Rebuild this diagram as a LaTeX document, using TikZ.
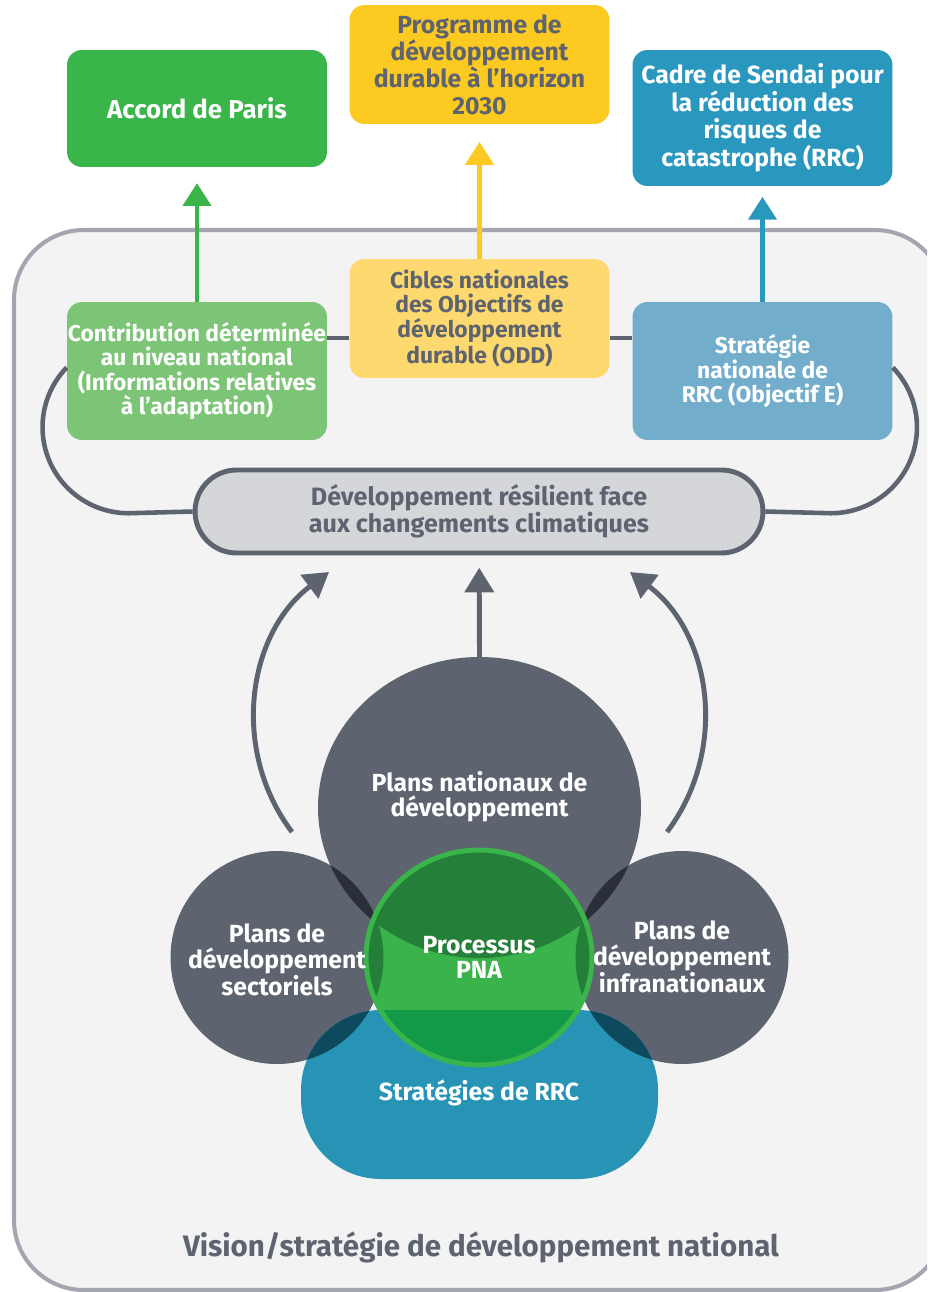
\documentclass[tikz,border=0pt]{standalone}
\usepackage{fontspec}
\setmainfont{Fira Sans}
\usetikzlibrary{arrows.meta}

\definecolor{grn}{HTML}{3AB54A}
\definecolor{ylw}{HTML}{FDCA21}
\definecolor{blu}{HTML}{2A97BE}
\definecolor{lgrn}{HTML}{7DC576}
\definecolor{lylw}{HTML}{FED96F}
\definecolor{lblu}{HTML}{72AECB}
\definecolor{txtgray}{HTML}{5E6370}
\definecolor{capfill}{HTML}{D5D6DA}
\definecolor{bgfill}{HTML}{F3F3F3}
\definecolor{framegray}{HTML}{A3A6AE}
\definecolor{lensgray}{HTML}{2B2F3A}
\definecolor{rrcblue}{HTML}{2794B6}
\definecolor{lensteal}{HTML}{0E4A5E}
\definecolor{pnagrn}{HTML}{3AB34A}
\definecolor{pnadark}{HTML}{248039}
\definecolor{pnablue}{HTML}{139A48}

\begin{document}
\begin{tikzpicture}[x=0.02cm,y=0.02cm,
    box/.style={rounded corners=0.3cm, minimum width=5.2cm, align=center, inner sep=0pt,
        text=white, font=\bfseries\fontsize{14.1}{14.9}\selectfont},
    subbox/.style={box, font=\bfseries\fontsize{13}{13.9}\selectfont},
    capsule/.style={draw=txtgray, line width=2.8pt, fill=capfill, rounded corners=0.83cm,
        minimum width=11.36cm, minimum height=1.66cm, align=center, text=txtgray,
        font=\bfseries\fontsize{14.3}{15.3}\selectfont},
    ctext/.style={align=center, text=white, font=\bfseries\fontsize{14.1}{14.3}\selectfont},
    loopline/.style={draw=txtgray, line width=2.6pt},
    uparrow/.style={line width=2.3pt, -{Triangle[width=16pt,length=13pt]}},
    grayarrow/.style={draw=txtgray, line width=2.8pt, -{Triangle[width=16.4pt,length=14pt]}}]

    % 画布与外框
    \useasboundingbox (0,0) rectangle (927,-1292);
    \clip (0,0) rectangle (927,-1292);
    \fill[white] (0,0) rectangle (927,-1292);
    \draw[fill=bgfill, draw=framegray, line width=2.3pt, rounded corners=1.4cm]
        (14,-230) rectangle (945,-1290);

    % 顶部方框
    \node[box, fill=grn, minimum height=2.34cm, font=\bfseries\fontsize{14.7}{15.5}\selectfont]
        (paris) at (197,-108.5) {Accord de Paris};
    \node[box, fill=ylw, text=txtgray, minimum height=2.38cm,
        font=\bfseries\fontsize{14.1}{15.3}\selectfont]
        (agenda) at (479.5,-64.5) {Programme de\\développement\\durable à l'horizon\\2030};
    \node[box, fill=blu, minimum height=2.72cm]
        (sendai) at (762.5,-118) {Cadre de Sendai pour\\la réduction des\\risques de\\catastrophe (RRC)};

    % 第二行方框
    \node[subbox, fill=lgrn, minimum height=2.76cm]
        (cdn) at (197,-371) {Contribution déterminée\\au niveau national\\(Informations relatives\\à l'adaptation)};
    \node[subbox, fill=lylw, text=txtgray, minimum height=2.38cm]
        (odd) at (479.5,-318.5) {Cibles nationales\\des Objectifs de\\développement\\durable (ODD)};
    \node[subbox, fill=lblu, minimum height=2.76cm]
        (srrc) at (762.5,-371) {Stratégie\\nationale de\\RRC (Objectif E)};

    % 向上的箭头
    \draw[uparrow, grn, shorten >=9pt] (cdn) -- (paris);
    \draw[uparrow, ylw, shorten >=10pt] (odd) -- (agenda);
    \draw[uparrow, blu, shorten >=6pt] (srrc) -- (sendai);

    % 方框之间的连线
    \coordinate (l1) at ([yshift=18.7pt]cdn.east);
    \coordinate (l2) at ([yshift=18.7pt]srrc.west);
    \draw[loopline] (l1) -- (l1 -| odd.west);
    \draw[loopline] (l2) -- (l2 -| odd.east);

    % 胶囊与环线
    \node[capsule] (dev) at (479,-511.5) {Développement résilient face\\aux changements climatiques};
    \draw[loopline] ([yshift=2pt]cdn.west) arc[start angle=136, end angle=270, radius=86] -- (dev.west);
    \draw[loopline] ([yshift=2pt]srrc.east) arc[start angle=44, end angle=-90, radius=86] -- (dev.east);

    % 圆形
    \def\pndpath{(479.5,-807.5) ellipse[x radius=161.5, y radius=150.5]}
    \def\sectpath{(277,-957.5) circle[radius=106.5]}
    \def\infrapath{(682,-957.5) circle[radius=106.5]}
    \def\pnapath{(479,-957.5) ellipse[x radius=113, y radius=107.5]}
    \fill[txtgray] \pndpath;
    \fill[txtgray] \sectpath;
    \fill[txtgray] \infrapath;
    \begin{scope}
        \clip \pndpath;
        \fill[lensgray] \sectpath;
        \fill[lensgray] \infrapath;
    \end{scope}

    % RRC 形状
    \fill[rrcblue, rounded corners=1.6cm] (301,-1010) rectangle (658,-1179);
    \begin{scope}
        \clip[rounded corners=1.6cm] (301,-1010) rectangle (658,-1179);
        \fill[lensteal] \sectpath;
        \fill[lensteal] \infrapath;
    \end{scope}

    % PNA 圆
    \fill[pnagrn] \pnapath;
    \begin{scope}
        \clip \pnapath;
        \fill[pnadark] \pndpath;
        \fill[pnadark] \sectpath;
        \fill[pnadark] \infrapath;
        \fill[pnablue, rounded corners=1.6cm] (301,-1010) rectangle (658,-1179);
    \end{scope}
    \draw[grn, line width=2.8pt] \pnapath;

    % 文字
    \node[ctext] (pnd) at (479.5,-797) {Plans nationaux de\\développement};
    \node[ctext] (sect) at (277,-960) {Plans de\\développement\\sectoriels};
    \node[ctext] (infra) at (682,-957) {Plans de\\développement\\infranationaux};
    \node[ctext] (pna) at (479,-957) {Processus\\PNA};
    \node[ctext] (rrc) at (479,-1093) {Stratégies de RRC};

    % 指向胶囊的箭头
    \coordinate (pndtop) at (479.5,-657);
    \coordinate (la0) at (292,-832);
    \coordinate (la1) at (329,-572);
    \coordinate (ra0) at (667,-832);
    \coordinate (ra1) at (630,-572);
    \draw[grayarrow, shorten >=7pt] (pndtop) -- (dev);
    \draw[grayarrow] (la0) to[out=127, in=217] (la1);
    \draw[grayarrow] (ra0) to[out=53, in=-37] (ra1);

    \node[text=txtgray, font=\bfseries\fontsize{16.8}{18}\selectfont]
        (vision) at (481,-1247) {Vision/stratégie de développement national};

\end{tikzpicture}
\end{document}
